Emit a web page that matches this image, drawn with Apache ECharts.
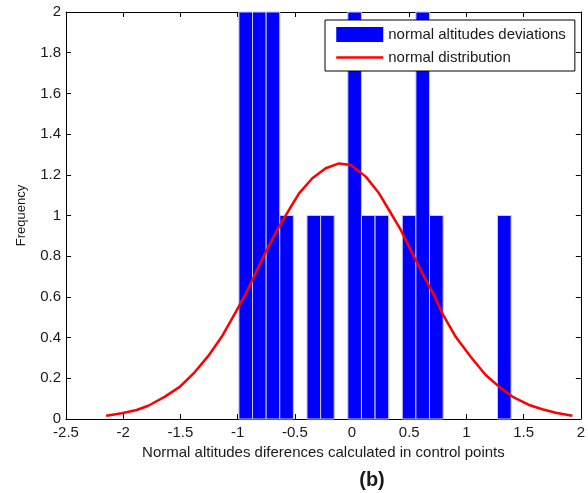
<!DOCTYPE html>
<html>
<head>
<meta charset="utf-8">
<script src="https://cdn.jsdelivr.net/npm/echarts@6/dist/echarts.min.js"></script>
<style>
html, body { margin: 0; padding: 0; background: #fff; }
#main { width: 588px; height: 493px; }
</style>
</head>
<body>
<div id="main"></div>
<script>
// histogram bins (centers) and counts
var binCenters = [-0.929, -0.810, -0.691, -0.572, -0.453, -0.334, -0.215, -0.096, 0.023, 0.142,
                  0.261, 0.380, 0.499, 0.618, 0.737, 0.856, 0.975, 1.094, 1.213, 1.331];
var binCounts = [2, 2, 2, 1, 0, 1, 1, 0, 2, 1, 1, 0, 1, 2, 1, 0, 0, 0, 0, 1];
var binWidth = 0.119;

// normal distribution curve
var curveX = [-2.149, -2.013, -1.882, -1.781, -1.635, -1.503, -1.372, -1.256, -1.139, -1.023,
              -0.935, -0.871, -0.754, -0.638, -0.551, -0.463, -0.347, -0.230, -0.114, -0.011,
              0.120, 0.236, 0.323, 0.426, 0.513, 0.615, 0.717, 0.789, 0.906, 1.037,
              1.168, 1.285, 1.401, 1.547, 1.663, 1.780, 1.926];
var curveY = [0.016, 0.028, 0.044, 0.065, 0.110, 0.159, 0.232, 0.310, 0.404, 0.519,
              0.609, 0.683, 0.822, 0.945, 1.027, 1.109, 1.183, 1.232, 1.256, 1.248,
              1.191, 1.109, 1.027, 0.929, 0.830, 0.716, 0.609, 0.519, 0.404, 0.306,
              0.216, 0.159, 0.110, 0.069, 0.048, 0.031, 0.016];

var xTicks = { min: -2.5, max: 2, interval: 0.5 };
var yTicks = { min: 0, max: 2, interval: 0.2 };

var histData = [];
for (var i = 0; i < binCenters.length; i++) {
    if (binCounts[i] > 0) histData.push([binCenters[i], binCounts[i]]);
}
var curveData = curveX.map(function (x, i) { return [x, curveY[i]]; });

var font = 'Liberation Sans, Arial, sans-serif';
var txt = '#1a1a1a';
var myChart = echarts.init(document.getElementById('main'));

var axisCommon = {
    axisLine: { show: true, onZero: false, lineStyle: { color: '#000', width: 1 } },
    axisTick: { show: true, inside: true, length: 5, lineStyle: { color: '#000' } },
    splitLine: { show: false }
};

myChart.setOption({
    animation: false,
    grid: { left: 66, right: 7, top: 12, bottom: 74 },
    legend: {
        orient: 'vertical',
        left: 325,
        top: 20,
        padding: [7, 9, 6, 10],
        itemGap: 8,
        itemWidth: 47,
        itemHeight: 15,
        backgroundColor: '#fff',
        borderColor: '#000',
        borderWidth: 1,
        borderRadius: 0,
        textStyle: { fontFamily: font, fontSize: 15, color: txt },
        data: [
            { name: 'normal altitudes deviations', icon: 'rect', itemStyle: { color: '#0000ff' } },
            { name: 'normal distribution', itemStyle: { color: 'rgba(0,0,0,0)', borderWidth: 0 },
              lineStyle: { color: '#ff0000', width: 2.5 } }
        ]
    },
    xAxis: [
        Object.assign({
            type: 'value', position: 'bottom',
            min: xTicks.min, max: xTicks.max, interval: xTicks.interval,
            name: 'Normal altitudes diferences calculated in control points',
            nameLocation: 'middle', nameGap: 26,
            nameTextStyle: { fontFamily: font, fontSize: 15, color: txt },
            axisLabel: { fontFamily: font, fontSize: 15, color: txt, margin: 6 }
        }, axisCommon),
        Object.assign({
            type: 'value', position: 'top',
            min: xTicks.min, max: xTicks.max, interval: xTicks.interval,
            axisLabel: { show: false }
        }, axisCommon)
    ],
    yAxis: [
        Object.assign({
            type: 'value', position: 'left',
            min: yTicks.min, max: yTicks.max, interval: yTicks.interval,
            name: 'Frequency', nameLocation: 'middle', nameGap: 38,
            nameTextStyle: { fontFamily: font, fontSize: 13, color: txt },
            axisLabel: { fontFamily: font, fontSize: 15, color: txt, margin: 5,
                formatter: function (v) { return +v.toFixed(1) + ''; } }
        }, axisCommon),
        Object.assign({
            type: 'value', position: 'right',
            min: yTicks.min, max: yTicks.max, interval: yTicks.interval,
            axisLabel: { show: false }
        }, axisCommon)
    ],
    series: [
        {
            name: 'normal altitudes deviations',
            type: 'custom',
            xAxisIndex: 0, yAxisIndex: 0,
            data: histData,
            itemStyle: { color: '#0000ff' },
            renderItem: function (params, api) {
                var c = api.value(0), n = api.value(1);
                var p0 = api.coord([c - binWidth / 2, n]);
                var p1 = api.coord([c + binWidth / 2, 0]);
                return {
                    type: 'rect',
                    shape: { x: p0[0], y: p0[1], width: p1[0] - p0[0], height: p1[1] - p0[1] },
                    style: { fill: '#0000ff', stroke: '#c8c8ff', lineWidth: 1 }
                };
            },
            z: 2
        },
        {
            name: 'normal distribution',
            type: 'line',
            xAxisIndex: 0, yAxisIndex: 0,
            data: curveData,
            symbol: 'none',
            lineStyle: { color: '#ff0000', width: 2.5 },
            itemStyle: { color: '#ff0000' },
            z: 3
        }
    ],
    graphic: [{
        type: 'text',
        x: 372, y: 480,
        style: { text: '(b)', font: 'bold 20px ' + font, fill: txt,
                 textAlign: 'center', textVerticalAlign: 'middle' }
    }]
});
</script>
</body>
</html>
